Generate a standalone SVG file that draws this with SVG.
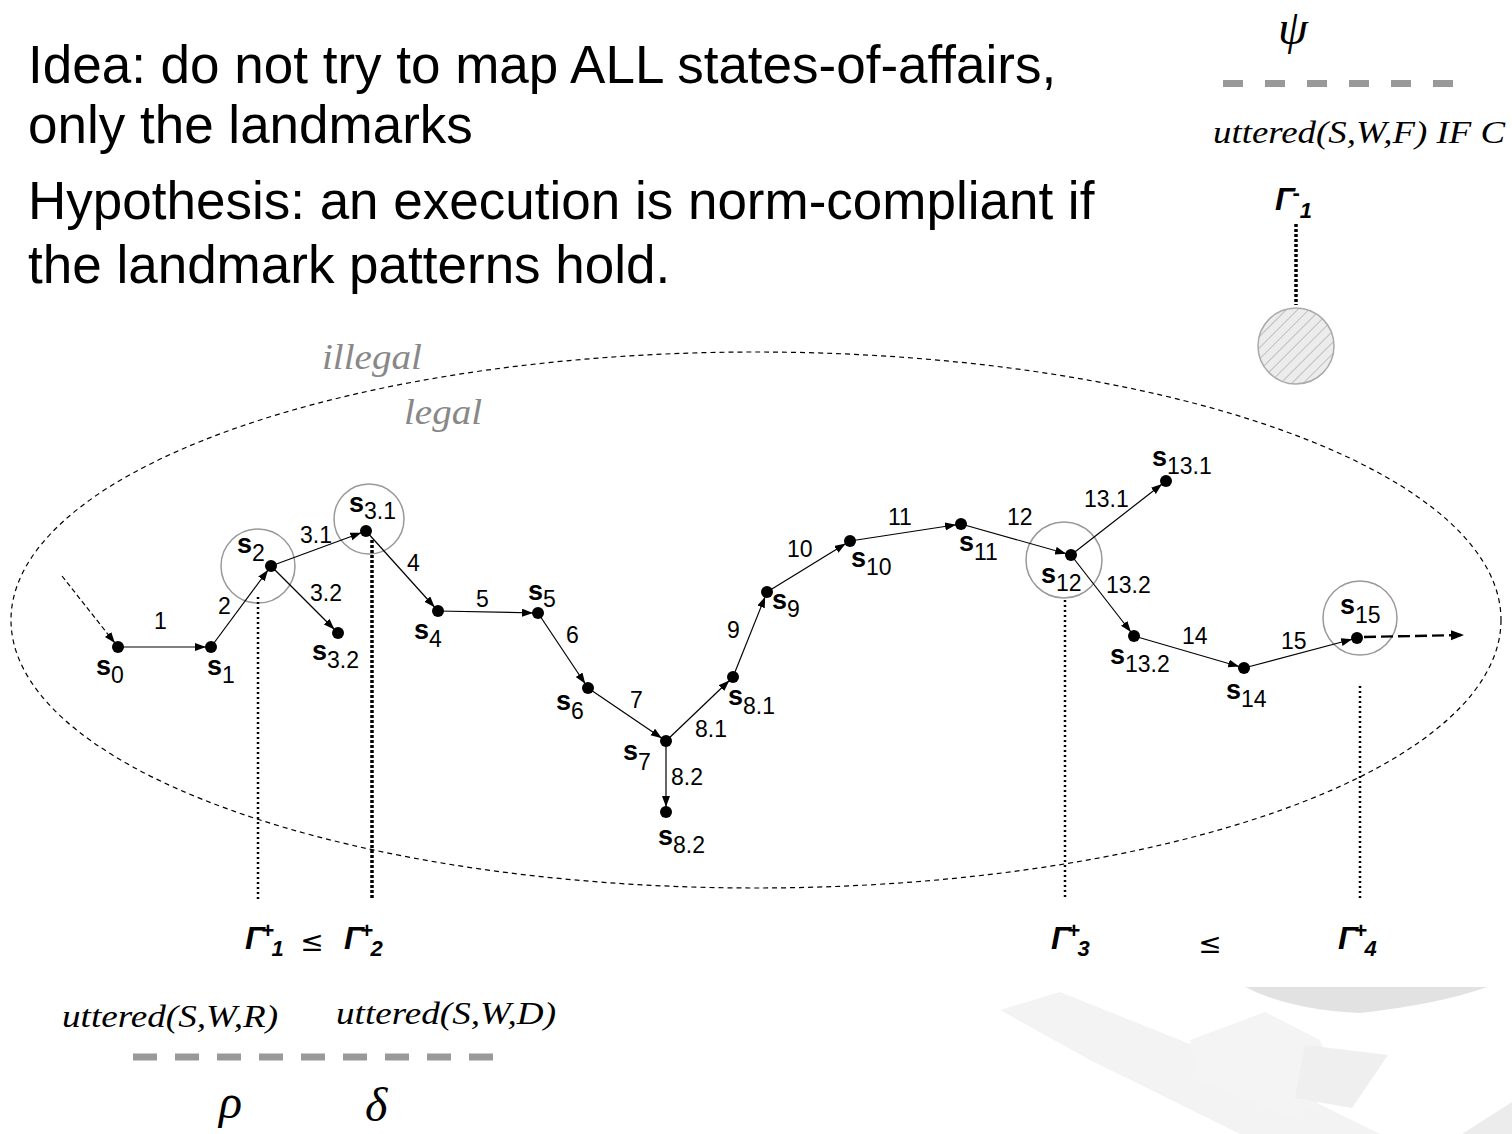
<svg xmlns="http://www.w3.org/2000/svg" width="1512" height="1134" viewBox="0 0 1512 1134">
<defs>
<marker id="ah" markerUnits="userSpaceOnUse" markerWidth="20" markerHeight="10" refX="16" refY="4" orient="auto">
<path d="M0,0 L11,4 L0,8 Z" fill="#000"/>
</marker>
<marker id="ah0" markerUnits="userSpaceOnUse" markerWidth="16" markerHeight="12" refX="13" refY="5" orient="auto">
<path d="M0,0 L13,5 L0,10 Z" fill="#000"/>
</marker>
<pattern id="hatch" patternUnits="userSpaceOnUse" width="8" height="8" patternTransform="rotate(45)">
<rect width="8" height="8" fill="#ececec"/>
<line x1="0" y1="0" x2="0" y2="8" stroke="#b4b4b4" stroke-width="1.6"/>
</pattern>
</defs>
<style>
.big{font-family:"Liberation Sans",Arial,sans-serif;font-size:53px;fill:#000}
.it{font-family:"Liberation Serif","Times New Roman",serif;font-style:italic;fill:#000}
.gr{font-family:"Liberation Serif","Times New Roman",serif;font-style:italic;fill:#888;font-size:36px}
.s{font-family:"Liberation Sans",Arial,sans-serif;font-weight:bold;font-size:27px;fill:#000}
.sub{font-family:"Liberation Sans",Arial,sans-serif;font-weight:normal;font-size:23px}
.el{font-family:"Liberation Sans",Arial,sans-serif;font-size:23px;fill:#000}
.e{stroke:#000;stroke-width:1.2;fill:none;marker-end:url(#ah)}
.dot{fill:#000}
.ring{fill:none;stroke:#999;stroke-width:1.5}
.vd{stroke:#000;stroke-width:2.5;stroke-dasharray:2 3;fill:none}
.vdb{stroke:#000;stroke-width:3.5;stroke-dasharray:3 2;fill:none}
.gam{font-family:"Liberation Sans",Arial,sans-serif;font-weight:bold;font-style:italic;font-size:32px;fill:#000}
.gsup{font-weight:bold;font-style:normal;font-size:22px}
.gsub{font-weight:bold;font-style:italic;font-size:22px}
.le{font-family:"DejaVu Sans",sans-serif;font-size:28px;fill:#000}
</style>
<rect width="1512" height="1134" fill="#fff"/>
<!-- faint background watermark -->
<g id="watermark">
<path d="M1245,987 L1487,987 Q1440,1004 1360,1013 Q1290,1010 1245,987 Z" fill="#e2e2e2"/>
<path d="M1000,1010 L1060,992 L1230,1060 L1380,1134 L1240,1134 L1090,1060 Z" fill="#f3f3f3"/>
<path d="M1190,1040 L1265,1012 L1320,1040 L1340,1090 L1290,1118 L1200,1080 Z" fill="#f4f4f4"/>
<path d="M1305,1045 L1388,1055 L1352,1108 L1295,1098 Z" fill="#efefef"/>
<path d="M1462,1134 L1512,1102 L1512,1134 Z" fill="#ececec"/>
</g>
<!-- header text -->
<g id="text">
<text class="big" x="28" y="83">Idea: do not try to map ALL states-of-affairs,</text>
<text class="big" x="28" y="143">only the landmarks</text>
<text class="big" x="28" y="219">Hypothesis: an execution is norm-compliant if</text>
<text class="big" x="28" y="283">the landmark patterns hold.</text>
</g>
<!-- top-right landmark -->
<g id="psi">
<text class="it" x="1293" y="44" font-size="48" text-anchor="middle">ψ</text>
<line x1="1223" y1="83.5" x2="1453" y2="83.5" stroke="#999" stroke-width="7" stroke-dasharray="20 22"/>
<text class="it" x="1213" y="143" font-size="32" textLength="292" lengthAdjust="spacingAndGlyphs">uttered(S,W,F) IF C</text>
</g>
<g id="gminus1">
<text class="gam" x="1275" y="210">Γ<tspan class="gsup" dx="-2" dy="-10">-</tspan><tspan class="gsub" dx="0" dy="18">1</tspan></text>
<line class="vdb" x1="1296" y1="224" x2="1296" y2="305"/>
<circle cx="1296" cy="346" r="38" fill="url(#hatch)" stroke="#aaa" stroke-width="1.5"/>
</g>
<!-- region -->
<g id="region">
<ellipse cx="756" cy="620" rx="745" ry="268" fill="none" stroke="#000" stroke-width="1.2" stroke-dasharray="5 4"/>
<text class="gr" x="322" y="369" textLength="100" lengthAdjust="spacingAndGlyphs">illegal</text>
<text class="gr" x="404" y="424" textLength="78" lengthAdjust="spacingAndGlyphs">legal</text>
</g>
<!-- rings -->
<g id="rings">
<circle class="ring" cx="258" cy="566" r="37"/>
<circle class="ring" cx="369" cy="519" r="35"/>
<circle class="ring" cx="1064" cy="560" r="38"/>
<circle class="ring" cx="1360" cy="618" r="37"/>
</g>
<!-- landmark dotted lines -->
<g id="landmark-lines">
<line class="vd" x1="258" y1="597" x2="258" y2="900"/>
<line class="vdb" x1="372" y1="540" x2="372" y2="900"/>
<line class="vd" x1="1065" y1="600" x2="1065" y2="900"/>
<line class="vd" x1="1360" y1="686" x2="1360" y2="900"/>
</g>
<!-- connectors -->
<g id="connectors">
<line x1="62" y1="576" x2="118" y2="647" stroke="#000" stroke-width="1.2" stroke-dasharray="5 3" marker-end="url(#ah)"/>
<line class="e" x1="118" y1="647" x2="211" y2="647"/>
<line class="e" x1="211" y1="647" x2="271" y2="566"/>
<line class="e" x1="271" y1="566" x2="366" y2="531"/>
<line class="e" x1="271" y1="566" x2="338" y2="633"/>
<line class="e" x1="366" y1="531" x2="438" y2="611"/>
<line class="e" x1="438" y1="611" x2="538" y2="613"/>
<line class="e" x1="538" y1="613" x2="588" y2="688"/>
<line class="e" x1="588" y1="688" x2="666" y2="741"/>
<line class="e" x1="666" y1="741" x2="666" y2="812"/>
<line class="e" x1="666" y1="741" x2="733" y2="677"/>
<line class="e" x1="733" y1="677" x2="767" y2="592"/>
<line class="e" x1="767" y1="592" x2="850" y2="541"/>
<line class="e" x1="850" y1="541" x2="961" y2="524"/>
<line class="e" x1="961" y1="524" x2="1071" y2="555"/>
<line class="e" x1="1071" y1="555" x2="1166" y2="481"/>
<line class="e" x1="1071" y1="555" x2="1134" y2="636"/>
<line class="e" x1="1134" y1="636" x2="1244" y2="668"/>
<line class="e" x1="1244" y1="668" x2="1357" y2="638"/>
<line x1="1364" y1="637" x2="1464" y2="635" stroke="#000" stroke-width="2.4" stroke-dasharray="12 5" marker-end="url(#ah0)"/>
</g>
<!-- edge labels -->
<g id="edge-labels" class="el">
<text x="154" y="629">1</text>
<text x="218" y="614">2</text>
<text x="300" y="543">3.1</text>
<text x="310" y="601">3.2</text>
<text x="407" y="571">4</text>
<text x="476" y="607">5</text>
<text x="566" y="643">6</text>
<text x="630" y="708">7</text>
<text x="695" y="737">8.1</text>
<text x="671" y="785">8.2</text>
<text x="727" y="638">9</text>
<text x="787" y="557">10</text>
<text x="888" y="525">11</text>
<text x="1007" y="525">12</text>
<text x="1084" y="507">13.1</text>
<text x="1106" y="593">13.2</text>
<text x="1182" y="644">14</text>
<text x="1281" y="649">15</text>
</g>
<!-- nodes -->
<g id="s0"><circle class="dot" cx="118" cy="647" r="6"/><text class="s" x="96" y="675">s<tspan class="sub" dy="8">0</tspan></text></g>
<g id="s1"><circle class="dot" cx="211" cy="647" r="6"/><text class="s" x="207" y="675">s<tspan class="sub" dy="8">1</tspan></text></g>
<g id="s2"><circle class="dot" cx="271" cy="566" r="6"/><text class="s" x="237" y="553">s<tspan class="sub" dy="8">2</tspan></text></g>
<g id="s3_1"><circle class="dot" cx="366" cy="531" r="6"/><text class="s" x="349" y="512">s<tspan class="sub" dy="7">3.1</tspan></text></g>
<g id="s3_2"><circle class="dot" cx="338" cy="633" r="6"/><text class="s" x="312" y="660">s<tspan class="sub" dy="8">3.2</tspan></text></g>
<g id="s4"><circle class="dot" cx="438" cy="611" r="6"/><text class="s" x="414" y="639">s<tspan class="sub" dy="8">4</tspan></text></g>
<g id="s5"><circle class="dot" cx="538" cy="613" r="6"/><text class="s" x="528" y="600">s<tspan class="sub" dy="7">5</tspan></text></g>
<g id="s6"><circle class="dot" cx="588" cy="688" r="6"/><text class="s" x="556" y="710">s<tspan class="sub" dy="9">6</tspan></text></g>
<g id="s7"><circle class="dot" cx="666" cy="741" r="6"/><text class="s" x="623" y="760">s<tspan class="sub" dy="10">7</tspan></text></g>
<g id="s8_2"><circle class="dot" cx="666" cy="812" r="6"/><text class="s" x="658" y="845">s<tspan class="sub" dy="8">8.2</tspan></text></g>
<g id="s8_1"><circle class="dot" cx="733" cy="677" r="6"/><text class="s" x="728" y="705">s<tspan class="sub" dy="9">8.1</tspan></text></g>
<g id="s9"><circle class="dot" cx="767" cy="592" r="6"/><text class="s" x="772" y="609">s<tspan class="sub" dy="8">9</tspan></text></g>
<g id="s10"><circle class="dot" cx="850" cy="541" r="6"/><text class="s" x="851" y="567">s<tspan class="sub" dy="8">10</tspan></text></g>
<g id="s11"><circle class="dot" cx="961" cy="524" r="6"/><text class="s" x="959" y="551">s<tspan class="sub" dy="9">11</tspan></text></g>
<g id="s12"><circle class="dot" cx="1071" cy="555" r="6"/><text class="s" x="1041" y="583">s<tspan class="sub" dy="8">12</tspan></text></g>
<g id="s13_1"><circle class="dot" cx="1166" cy="481" r="6"/><text class="s" x="1152" y="466">s<tspan class="sub" dy="8">13.1</tspan></text></g>
<g id="s13_2"><circle class="dot" cx="1134" cy="636" r="6"/><text class="s" x="1110" y="664">s<tspan class="sub" dy="8">13.2</tspan></text></g>
<g id="s14"><circle class="dot" cx="1244" cy="668" r="6"/><text class="s" x="1226" y="699">s<tspan class="sub" dy="8">14</tspan></text></g>
<g id="s15"><circle class="dot" cx="1357" cy="638" r="6"/><text class="s" x="1340" y="614">s<tspan class="sub" dy="9">15</tspan></text></g>
<!-- landmark labels -->
<g id="gplus1"><text class="gam" x="245" y="949">Γ<tspan class="gsup" dx="-3" dy="-11">+</tspan><tspan class="gsub" dx="-3" dy="18">1</tspan></text></g>
<text class="le" x="312" y="951" text-anchor="middle">≤</text>
<g id="gplus2"><text class="gam" x="344" y="949">Γ<tspan class="gsup" dx="-3" dy="-11">+</tspan><tspan class="gsub" dx="-3" dy="18">2</tspan></text></g>
<g id="gplus3"><text class="gam" x="1051" y="949">Γ<tspan class="gsup" dx="-3" dy="-11">+</tspan><tspan class="gsub" dx="-3" dy="18">3</tspan></text></g>
<text class="le" x="1210" y="953" text-anchor="middle">≤</text>
<g id="gplus4"><text class="gam" x="1338" y="949">Γ<tspan class="gsup" dx="-3" dy="-11">+</tspan><tspan class="gsub" dx="-3" dy="18">4</tspan></text></g>
<!-- bottom formulas -->
<g id="bottom">
<text class="it" x="62" y="1027" font-size="32" textLength="216" lengthAdjust="spacingAndGlyphs">uttered(S,W,R)</text>
<text class="it" x="336" y="1024" font-size="32" textLength="220" lengthAdjust="spacingAndGlyphs">uttered(S,W,D)</text>
<line x1="133" y1="1057" x2="493" y2="1057" stroke="#999" stroke-width="7" stroke-dasharray="24 18"/>
<text class="it" x="219" y="1118" font-size="48">ρ</text>
<text class="it" x="365" y="1121" font-size="48">δ</text>
</g>
</svg>
